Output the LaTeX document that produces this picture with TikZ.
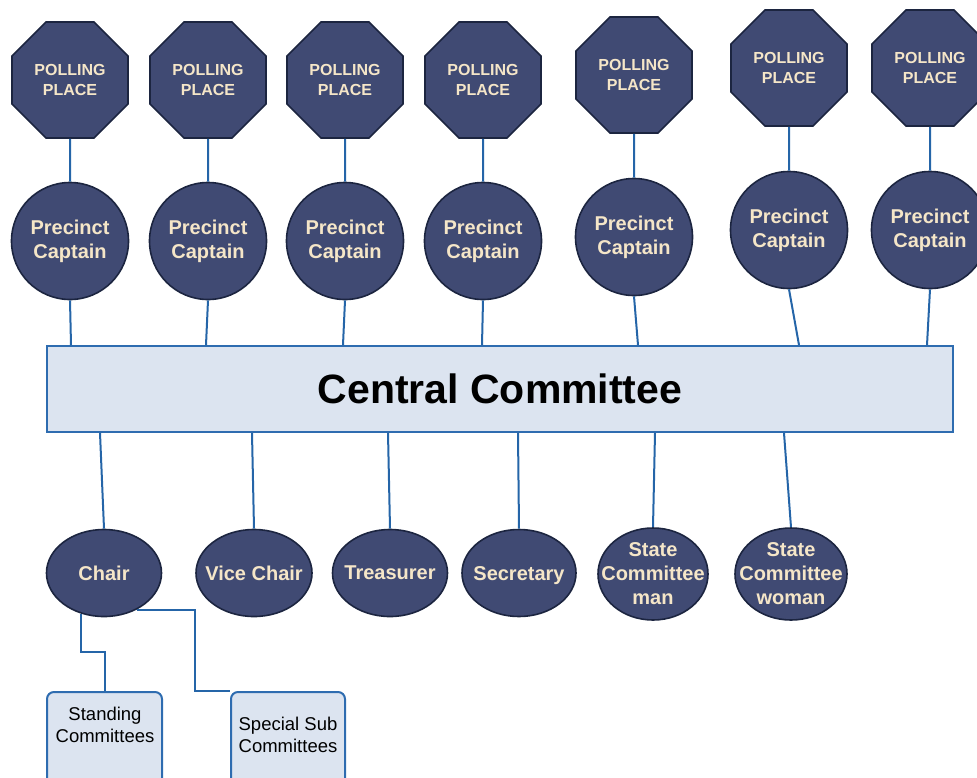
\documentclass[tikz,border=0pt]{standalone}
\usepackage{fontspec}
\setmainfont{Liberation Sans}
\usetikzlibrary{shapes.geometric,calc}
\definecolor{navy}{HTML}{404A73}
\definecolor{navyline}{HTML}{1C2540}
\definecolor{cream}{HTML}{F5E6C8}
\definecolor{conn}{HTML}{2565A8}
\definecolor{boxfill}{HTML}{DCE4F0}
\definecolor{boxline}{HTML}{2E6CB0}
\tikzset{
  dark/.style={fill=navy,draw=navyline,line width=1.6pt,text=cream,inner sep=0pt,align=center},
  poll/.style={dark,regular polygon,regular polygon sides=8,minimum size=125.6pt,
    font={\fontsize{16}{20}\selectfont\bfseries}},
  captain/.style={dark,circle,minimum size=117pt,font={\fontsize{20}{24}\selectfont\bfseries}},
  officer/.style={dark,ellipse,minimum width=115pt,minimum height=87pt},
  otext/.style={text=cream,inner sep=0pt,align=center,font={\fontsize{20}{24}\selectfont\bfseries}},
  central/.style={fill=boxfill,draw=boxline,line width=2pt,minimum width=906pt,minimum height=86pt,
    inner sep=0pt,font={\fontsize{41}{48}\selectfont\bfseries}},
  commbox/.style={fill=boxfill,draw=boxline,line width=2pt,rounded corners=7pt,
    minimum width=115pt,minimum height=96pt,inner sep=0pt},
  ctext/.style={inner sep=0pt,align=center,font={\fontsize{18.5}{22}\selectfont}},
  link/.style={draw=conn,line width=2pt}
}
\begin{document}
\begin{tikzpicture}[x=1pt,y=-1pt]
\useasboundingbox (0,0) rectangle (977,777);
% polling places
\node[poll] (p1) at (70,80) {POLLING\\PLACE};
\node[poll] (p2) at (208,80) {POLLING\\PLACE};
\node[poll] (p3) at (345,80) {POLLING\\PLACE};
\node[poll] (p4) at (483,80) {POLLING\\PLACE};
\node[poll] (p5) at (634,75) {POLLING\\PLACE};
\node[poll] (p6) at (789,68) {POLLING\\PLACE};
\node[poll] (p7) at (930,68) {POLLING\\PLACE};
% precinct captains
\node[captain] (c1) at (70,241) {Precinct\\Captain};
\node[captain] (c2) at (208,241) {Precinct\\Captain};
\node[captain] (c3) at (345,241) {Precinct\\Captain};
\node[captain] (c4) at (483,241) {Precinct\\Captain};
\node[captain] (c5) at (634,237) {Precinct\\Captain};
\node[captain] (c6) at (789,230) {Precinct\\Captain};
\node[captain] (c7) at (930,230) {Precinct\\Captain};
% central committee
\node[central] (cc) at (500,389) {Central Committee};
% officers
\node[officer] (e1) at (104,573) {};
\node[officer,minimum width=116pt] (e2) at (254,573) {};
\node[officer] (e3) at (390,573) {};
\node[officer,minimum width=114pt] (e4) at (519,573) {};
\node[officer,minimum width=110pt,minimum height=92pt] (e5) at (653,574) {};
\node[officer,minimum width=112pt,minimum height=92pt] (e6) at (791,574) {};
\node[otext] (t1) at (e1) {Chair};
\node[otext] (t2) at (e2) {Vice Chair};
\node[otext] (t3) at (e3) {Treasurer};
\node[otext] (t4) at ([yshift=-3pt]e4.center) {Secretary};
\node[otext] (t5) at (e5) {State\\Committee\\man};
\node[otext] (t6) at (e6) {State\\Committee\\woman};
% committees
\node[commbox] (sc) at (104.5,740) {};
\node[commbox,minimum width=114pt] (ss) at (288,740) {};
\node[ctext] (sct) at (105,725) {Standing\\Committees};
\node[ctext] (sst) at (288,735) {Special Sub\\Committees};
% links polling -> captain
\foreach \i in {1,...,7} {\draw[link] (p\i.south) -- (c\i.north);}
% captains -> central
\draw[link] (c1.south) -- ($(c1.south |- cc.north)+(1,0)$);
\draw[link] (c2.south) -- ($(c2.south |- cc.north)+(-2,0)$);
\draw[link] (c3.south) -- ($(c3.south |- cc.north)+(-2,0)$);
\draw[link] (c4.south) -- ($(c4.south |- cc.north)+(-1,0)$);
\draw[link] (c5.south) -- ($(c5.south |- cc.north)+(4,0)$);
\draw[link] (c6.south) -- ($(c6.south |- cc.north)+(10,0)$);
\draw[link] (c7.south) -- ($(c7.south |- cc.north)+(-3,0)$);
% central -> officers
\draw[link] ($(e1.north |- cc.south)+(-4,0)$) -- (e1.north);
\draw[link] ($(e2.north |- cc.south)+(-2,0)$) -- (e2.north);
\draw[link] ($(e3.north |- cc.south)+(-2,0)$) -- (e3.north);
\draw[link] ($(e4.north |- cc.south)+(-1,0)$) -- (e4.north);
\draw[link] ($(e5.north |- cc.south)+(2,0)$) -- (e5.north);
\draw[link] ($(e6.north |- cc.south)+(-7,0)$) -- (e6.north);
% chair -> committees
\draw[link] (e1.240) |- ($(e1.240)!.5!(sc.north)$) -| (sc.north);
\draw[link] (e1.312) -| ($(ss.north west)+(-35,0)$) -- (ss.north west);
\end{tikzpicture}
\end{document}
